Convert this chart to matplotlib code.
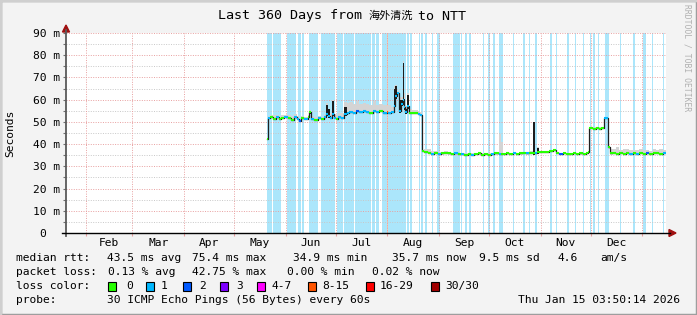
import datetime as dt

import matplotlib.pyplot as plt
from matplotlib.patches import Rectangle, Polygon

# Time range: last 360 days up to the probe timestamp
end = dt.datetime(2026, 1, 15, 3, 50, 14)
start = end - dt.timedelta(days=360)

# Median rtt (ms) as step change points, x = days since start
days = [120.4, 121.2, 122.4, 124.0, 126.0, 127.6, 129.0, 131.0, 133.0, 135.0,
        136.6, 138.4, 139.8, 141.0, 143.0, 145.0, 145.8, 147.0, 149.0, 151.0,
        153.0, 155.0, 156.2, 157.4, 158.6, 159.8, 160.8, 162.0, 163.4, 165.0,
        167.0, 168.4, 170.0, 172.0, 174.0, 176.0, 178.0, 180.0, 182.0, 184.0,
        186.0, 188.0, 190.0, 192.6, 193.2, 195.0, 196.8, 197.6, 198.4, 199.6,
        201.0, 202.0, 202.8, 203.6, 204.4, 206.0, 207.6, 209.0, 211.0, 212.4,
        213.4, 215.0, 217.0, 219.0, 221.0, 223.0, 225.0, 227.0, 229.0, 231.0,
        233.0, 235.0, 237.0, 239.0, 241.0, 243.0, 245.0, 247.0, 249.0, 251.0,
        253.0, 255.0, 257.0, 259.6, 260.8, 262.0, 264.0, 266.0, 268.0, 270.0,
        272.0, 274.0, 276.0, 278.0, 280.0, 281.4, 282.6, 283.8, 286.0, 288.0,
        290.0, 292.0, 294.0, 296.0, 298.0, 300.0, 302.0, 304.0, 306.0, 308.0,
        310.0, 312.0, 313.2, 314.0, 316.0, 318.0, 320.0, 321.0, 323.0, 325.4,
        326.2, 328.0, 330.0, 332.0, 334.0, 336.0, 338.0, 340.0, 342.0, 344.0,
        346.0, 348.0, 350.0, 352.0, 354.0, 356.0, 358.0, 359.8]
median = [42.5, 51.8, 52.2, 51.4, 52.0, 51.2, 51.8, 52.3, 51.6, 51.0,
          52.0, 51.2, 50.2, 51.6, 51.3, 52.0, 54.5, 51.5, 51.0, 51.8,
          51.4, 52.2, 53.5, 52.8, 51.8, 53.5, 51.6, 51.5, 52.2, 51.8,
          53.5, 54.0, 54.6, 54.2, 54.8, 54.4, 55.0, 54.5, 54.2, 54.8,
          54.4, 54.8, 54.2, 54.5, 54.0, 54.6, 57.0, 61.5, 63.0, 55.0,
          58.0, 60.0, 56.5, 54.5, 57.0, 54.0, 54.2, 54.0, 53.6, 53.0,
          36.8, 36.6, 36.2, 35.6, 35.9, 35.4, 35.8, 36.2, 35.8, 35.5,
          35.8, 35.4, 35.7, 35.2, 35.6, 35.1, 35.5, 35.8, 35.3, 35.6,
          35.2, 35.6, 35.8, 35.6, 35.5, 35.4, 35.8, 35.6, 35.9, 35.6,
          35.8, 36.0, 35.8, 36.0, 36.2, 35.8, 36.4, 36.4, 36.5, 36.4,
          37.0, 37.2, 36.0, 35.6, 35.9, 35.7, 35.6, 35.9, 35.5, 35.8,
          35.6, 36.0, 36.4, 47.2, 47.0, 47.3, 47.0, 47.2, 51.6, 38.5,
          35.8, 35.9, 35.6, 36.0, 35.7, 35.9, 35.5, 35.8, 35.6, 36.0,
          35.6, 35.9, 35.4, 35.9, 36.2, 35.7, 36.1, 36.0]
# packet loss per step (pings lost out of 30)
loss = [0, 1, 0, 0, 1, 0, 0, 1, 0, 0,
        1, 1, 2, 0, 1, 0, 0, 1, 0, 1,
        0, 1, 1, 1, 1, 1, 1, 0, 1, 1,
        1, 1, 1, 1, 2, 1, 1, 1, 0, 1,
        1, 0, 1, 8, 1, 1, 1, 1, 1, 1,
        1, 1, 1, 1, 1, 0, 0, 0, 1, 1,
        0, 0, 0, 1, 0, 1, 0, 0, 0, 0,
        1, 0, 1, 0, 0, 1, 0, 0, 0, 0,
        0, 1, 0, 1, 0, 0, 0, 0, 1, 0,
        0, 0, 1, 0, 0, 1, 0, 0, 0, 0,
        0, 0, 0, 2, 0, 0, 0, 0, 0, 0,
        0, 0, 0, 0, 0, 0, 0, 0, 1, 0,
        0, 0, 0, 0, 0, 0, 1, 0, 1, 0,
        0, 2, 0, 0, 0, 0, 1, 0]
# light smoke upper edge (ms)
smoke_hi = [42.5, 52.5, 53.0, 53.0, 53.0, 52.8, 53.0, 53.2, 53.0, 52.6,
            53.5, 52.5, 51.5, 52.5, 52.4, 53.0, 55.5, 52.8, 52.2, 52.6,
            52.2, 53.0, 58.5, 55.0, 54.0, 60.0, 53.5, 53.0, 54.0, 54.0,
            59.0, 58.5, 59.0, 58.0, 59.5, 58.0, 58.5, 58.0, 57.5, 59.5,
            57.5, 58.0, 57.5, 57.0, 57.5, 56.5, 66.0, 66.5, 64.0, 61.0,
            61.0, 77.5, 63.0, 57.0, 63.0, 56.0, 55.5, 55.5, 55.0, 54.5,
            37.5, 37.8, 37.8, 37.0, 37.0, 36.5, 36.6, 36.8, 36.4, 36.2,
            36.4, 36.0, 36.2, 35.8, 36.2, 35.8, 36.0, 36.3, 35.9, 36.1,
            35.8, 36.0, 36.3, 44.5, 41.0, 36.0, 36.3, 36.2, 36.4, 36.2,
            36.4, 36.6, 36.6, 36.8, 37.0, 36.5, 38.5, 37.0, 37.0, 36.9,
            37.4, 37.6, 36.5, 36.0, 36.3, 36.2, 36.1, 36.3, 36.0, 36.2,
            36.0, 36.4, 36.8, 47.8, 47.6, 47.8, 47.6, 47.8, 52.3, 39.0,
            37.8, 38.0, 38.5, 37.5, 37.8, 37.6, 37.4, 37.5, 37.2, 37.6,
            37.2, 37.4, 37.0, 37.8, 37.5, 37.9, 37.2, 37.2]
# dense (dark) smoke upper edge, 0 = none
dark_hi = [0, 0, 0, 0, 0, 0, 0, 0, 0, 0,
           0, 0, 0, 0, 0, 0, 55.0, 0, 0, 0,
           0, 0, 57.6, 56.0, 0, 59.5, 0, 0, 0, 0,
           56.5, 0, 0, 0, 0, 0, 0, 0, 0, 0,
           0, 0, 0, 0, 0, 0, 65.0, 66.0, 62.0, 60.0,
           60.0, 76.3, 60.5, 56.0, 62.0, 0, 0, 0, 0, 0,
           0, 0, 0, 0, 0, 0, 0, 0, 0, 0,
           0, 0, 0, 0, 0, 0, 0, 0, 0, 0,
           0, 0, 0, 0, 0, 0, 0, 0, 0, 0,
           0, 0, 0, 0, 50.1, 0, 38.3, 0, 0, 0,
           0, 0, 0, 0, 0, 0, 0, 0, 0, 0,
           0, 0, 0, 0, 0, 0, 0, 0, 0, 0,
           0, 0, 0, 0, 0, 0, 0, 0, 0, 0,
           0, 0, 0, 0, 0, 0, 0, 0]

# loss background bands (start day, end day)
band_start = [120.4, 124.0, 128.0, 132.4, 134.0, 139.2, 141.6, 145.6, 152.8, 162.4,
              166.8, 173.4, 183.8, 186.0, 189.6, 204.4, 206.4, 211.6, 212.8, 215.2,
              219.6, 222.8, 232.0, 233.6, 236.8, 239.6, 242.0, 250.0, 253.4, 256.4,
              259.6, 268.0, 274.4, 277.6, 281.6, 290.4, 294.0, 300.8, 305.2, 310.0,
              314.4, 316.4, 319.2, 323.2, 332.4, 340.4, 346.4, 351.6, 358.0]
band_end = [123.6, 127.6, 129.2, 133.6, 138.0, 140.8, 142.8, 151.4, 161.6, 166.0,
            172.8, 183.2, 185.4, 188.0, 204.0, 206.0, 207.6, 212.4, 214.4, 216.4,
            220.0, 224.4, 233.2, 236.4, 237.6, 240.4, 243.2, 250.8, 254.2, 257.2,
            262.0, 268.8, 275.2, 278.4, 282.4, 291.4, 294.8, 301.6, 306.0, 310.8,
            315.2, 317.2, 320.0, 325.6, 333.2, 341.2, 348.0, 352.4, 358.8]
orange_band = (192.6, 193.2)

loss_colors = {0: '#26ff00', 1: '#00b8ff', 2: '#0059ff', 3: '#7e00ff',
               4: '#ff00ff', 8: '#ff5500', 16: '#ff0000', 30: '#a10000'}
loss_labels = ['0', '1', '2', '3', '4-7', '8-15', '16-29', '30/30']

W, H = 697, 315
mono = ['DejaVu Sans Mono', 'Noto Sans CJK SC']
fs = 8.1

fig = plt.figure(figsize=(W / 100, H / 100), dpi=100, facecolor='#f3f3f3')


def fx(x):
    return x / W


def fy(y):
    return 1 - y / H


def ftext(x, y, s, **kw):
    kw.setdefault('fontsize', fs)
    kw.setdefault('family', mono)
    kw.setdefault('va', 'center')
    fig.text(fx(x), fy(y), s, **kw)


# frame shading like rrdtool
fig.patches.append(Rectangle((0, 0), 1, 1, transform=fig.transFigure,
                             fill=False, edgecolor='#9e9e9e', lw=2.5))
fig.add_artist(plt.Line2D([0, 0], [0, 1], color='#cfcfcf', lw=2.5,
                          transform=fig.transFigure))
fig.add_artist(plt.Line2D([0, 1], [1, 1], color='#cfcfcf', lw=2.5,
                          transform=fig.transFigure))

ax = fig.add_axes([fx(66), fy(233), 600 / W, 200 / H])
ax.set_facecolor('white')
ax.set_xlim(0, 360)
ax.set_ylim(0, 90)

# loss bands
for s, e in zip(band_start, band_end):
    ax.axvspan(s, e, color='#abe6fb', lw=0, zorder=0.5)
ax.axvspan(*orange_band, color='#f8c8b0', lw=0, zorder=0.5)

# grid
for v in range(5, 90, 10):
    ax.axhline(v, color='#c8c8c8', lw=0.7, ls=(0, (1, 1.5)), zorder=1)
for v in range(10, 91, 10):
    ax.axhline(v, color='#e8a0a0', lw=0.7, ls=(0, (1, 1.5)), zorder=1)

month_starts = []
m = dt.datetime(2025, 2, 1)
while m < end:
    month_starts.append(m)
    m = dt.datetime(m.year + (m.month == 12), m.month % 12 + 1, 1)
month_x = [(d - start).total_seconds() / 86400 for d in month_starts]
for x in month_x:
    ax.axvline(x, color='#e8a0a0', lw=0.7, ls=(0, (1, 1.5)), zorder=1)

# month labels centered in each full month
for i in range(len(month_x) - 1):
    mid = (month_x[i] + month_x[i + 1]) / 2
    ax.text(mid, -4.5, month_starts[i].strftime('%b'), ha='center',
            va='center', fontsize=fs, family=mono, clip_on=False)

# smoke
ends = days[1:] + [359.8]
for i in range(len(days) - 1):
    lo = min(median[i], smoke_hi[i]) - 0.5
    ax.fill_between([days[i], ends[i]], lo, smoke_hi[i], color='#d4d4d4',
                    lw=0, zorder=2)
    if dark_hi[i] > 0:
        ax.fill_between([days[i], ends[i]], median[i] - 1.0, dark_hi[i],
                        color='#1c1c1c', lw=0, zorder=2.5)

# median line: dark connectors then loss-coloured steps
ax.plot(days, median, drawstyle='steps-post', color='#202020', lw=0.9,
        zorder=3)
for i in range(len(days) - 1):
    ax.plot([days[i], ends[i]], [median[i], median[i]],
            color=loss_colors[loss[i]], lw=1.5, solid_capstyle='butt',
            zorder=4)

# axes styling
for sp in ax.spines.values():
    sp.set_visible(False)
ax.set_xticks(month_x)
ax.set_xticklabels([])
ax.set_yticks(range(0, 91, 10))
ax.set_yticks(range(5, 90, 10), minor=True)
ax.set_yticklabels(['0  '] + ['%d m' % v for v in range(10, 91, 10)],
                   family=mono, fontsize=fs)
ax.tick_params(axis='y', which='both', length=2, width=0.8, color='#707070',
               pad=2)
ax.tick_params(axis='x', length=2, width=0.8, color='#e8a0a0', pad=2)

# axis lines with arrows
fig.add_artist(plt.Line2D([fx(66), fx(66)], [fy(236), fy(30)],
                          color='#5a5a5a', lw=1.3))
fig.add_artist(plt.Line2D([fx(62), fx(670)], [fy(233), fy(233)],
                          color='black', lw=1.0))
fig.patches.append(Polygon([[fx(62.5), fy(32)], [fx(69.5), fy(32)],
                            [fx(66), fy(25)]], closed=True,
                           transform=fig.transFigure, color='#a01010'))
fig.patches.append(Polygon([[fx(669), fy(229.5)], [fx(669), fy(236.5)],
                            [fx(676), fy(233)]], closed=True,
                           transform=fig.transFigure, color='#a01010'))

# title
ftext(218, 16, 'Last 360 Days from', fontsize=9.6, ha='left')
ftext(369, 16, '海外清洗', fontsize=8.0, ha='left', family=['Noto Sans CJK SC'])
ftext(418, 16, 'to NTT', fontsize=9.6, ha='left')

ftext(10, 133, 'Seconds', rotation=90, ha='center')
ftext(687, 58, 'RRDTOOL / TOBI OETIKER', rotation=-90, ha='center',
      fontsize=5.8, color='#b0b0b0')

# legend rows
ftext(16, 258, 'median rtt:')
for x, s in zip([107, 192, 293, 392, 479, 558, 600],
                ['43.5 ms avg', '75.4 ms max', '34.9 ms min', '35.7 ms now',
                 '9.5 ms sd', '4.6', 'am/s']):
    ftext(x, 258, s)
ftext(16, 272, 'packet loss:')
for x, s in zip([107.5, 192.4, 286.7, 372.4],
                ['0.13 % avg', '42.75 % max', '0.00 % min', '0.02 % now']):
    ftext(x, 272, s)
ftext(16, 286, 'loss color:')
box_x = [108, 146, 183, 220, 257, 307.5, 366, 431]
lab_x = [126, 161, 199, 236, 271, 321.8, 380, 445]
for bx, lx, c, lab in zip(box_x, lab_x, loss_colors.values(), loss_labels):
    fig.patches.append(Rectangle((fx(bx), fy(290.5)), 8 / W, 9 / H,
                                 transform=fig.transFigure, facecolor=c,
                                 edgecolor='black', lw=0.8))
    ftext(lx, 286, lab)
ftext(16, 300, 'probe:')
ftext(107, 300, '30 ICMP Echo Pings (56 Bytes) every 60s')
ftext(680, 300, end.strftime('%a %b %d %H:%M:%S %Y'), ha='right')

fig.savefig('out.png', dpi=100, facecolor=fig.get_facecolor())
